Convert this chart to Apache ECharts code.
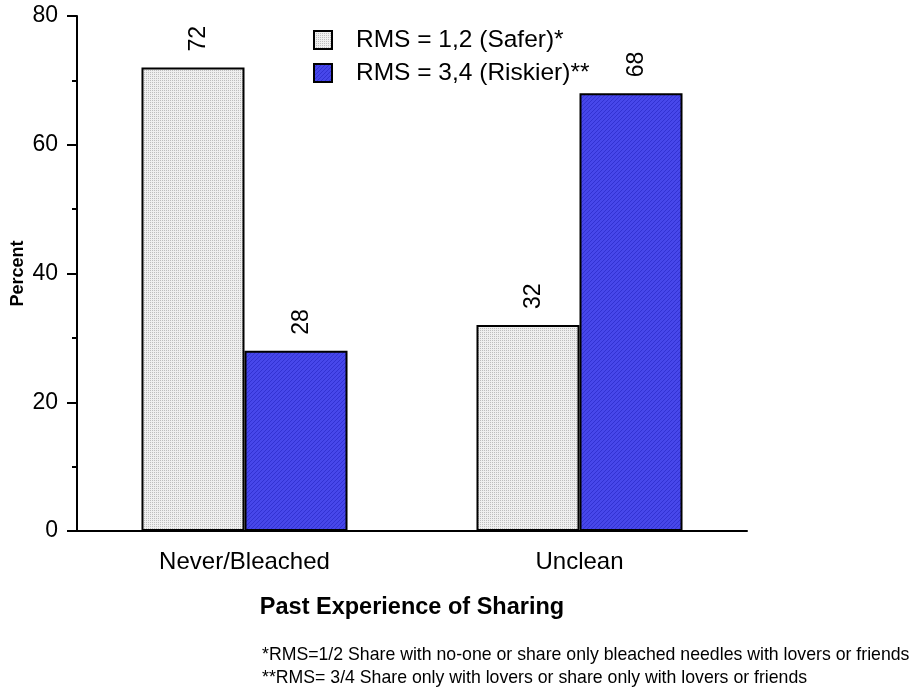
<!DOCTYPE html>
<html>
<head>
<meta charset="utf-8">
<script src="https://cdn.jsdelivr.net/npm/echarts@6/dist/echarts.min.js"></script>
<style>
  html, body { margin: 0; padding: 0; background: #fff; }
  #chart { width: 912px; height: 696px; }
</style>
</head>
<body>
<div id="chart"></div>
<script>
// Chart data
const categories = ['Never/Bleached', 'Unclean'];
const seriesNames = ['RMS = 1,2 (Safer)*', 'RMS = 3,4 (Riskier)**'];
const saferValues = [72, 32];
const riskierValues = [28, 68];
const yTicks = [0, 20, 40, 60, 80];
const footnotes = [
  '*RMS=1/2 Share with no-one or share only bleached needles with lovers or friends',
  '**RMS= 3/4 Share only with lovers or share only with lovers or friends'
];

const FONT = '"Liberation Sans", Arial, sans-serif';

// Small fill textures: fine stipple for the grey bars, fine diagonal hatch for the blue bars
function makePattern(draw) {
  const c = document.createElement('canvas');
  c.width = 4; c.height = 4;
  draw(c.getContext('2d'));
  return { image: c, repeat: 'repeat' };
}
const greyFill = makePattern(ctx => {
  ctx.fillStyle = '#efefef'; ctx.fillRect(0, 0, 4, 4);
  ctx.fillStyle = '#bdbdbd';
  ctx.fillRect(0, 0, 1, 1); ctx.fillRect(2, 2, 1, 1);
  ctx.fillRect(2, 0, 1, 1); ctx.fillRect(0, 2, 1, 1);
});
const blueFill = makePattern(ctx => {
  ctx.fillStyle = '#4747ea'; ctx.fillRect(0, 0, 4, 4);
  ctx.fillStyle = '#3232d2';
  for (let i = 0; i < 4; i++) ctx.fillRect(3 - i, i, 1, 1);
});

const chart = echarts.init(document.getElementById('chart'), null, { renderer: 'canvas' });

const labelStyle = {
  show: true,
  position: 'top',
  rotate: 90,
  align: 'left',
  verticalAlign: 'middle',
  distance: 16,
  offset: [0, 6],
  fontFamily: FONT,
  fontSize: 23,
  color: '#000'
};

chart.setOption({
  animation: false,
  backgroundColor: '#fff',
  grid: { left: 77, right: 165, top: 16, bottom: 165, containLabel: false, outerBoundsMode: 'none' },
  legend: {
    orient: 'vertical',
    left: 313,
    top: 27.5,
    padding: 0,
    icon: 'rect',
    itemWidth: 18,
    itemHeight: 18,
    itemGap: 8,
    data: seriesNames,
    textStyle: { fontFamily: FONT, fontSize: 24.5, color: '#000', padding: [0, 0, 0, 19] }
  },
  xAxis: [
    {
      type: 'category',
      data: categories,
      axisLine: { lineStyle: { color: '#000', width: 2 } },
      axisTick: { alignWithLabel: true, length: 8, lineStyle: { color: '#000', width: 2 } },
      axisLabel: { fontFamily: FONT, fontSize: 24, color: '#000', margin: 19 },
      name: 'Past Experience of Sharing',
      nameLocation: 'middle',
      nameGap: 65,
      nameTextStyle: { fontFamily: FONT, fontSize: 23.5, fontWeight: 'bold', color: '#000' }
    },
    {
      // category boundary ticks
      type: 'category',
      data: categories,
      position: 'bottom',
      axisLine: { show: false },
      axisTick: { length: 4, lineStyle: { color: '#000', width: 2 } },
      axisLabel: { show: false }
    }
  ],
  yAxis: {
    type: 'value',
    min: 0,
    max: 80,
    interval: 20,
    axisLine: { show: true, lineStyle: { color: '#000', width: 2 } },
    axisTick: { show: true, length: 10, lineStyle: { color: '#000', width: 2 } },
    minorTick: { show: true, splitNumber: 2, length: 5, lineStyle: { color: '#000', width: 2 } },
    splitLine: { show: false },
    axisLabel: {
      fontFamily: FONT, fontSize: 23, color: '#000', margin: 19,
      formatter: v => (yTicks.indexOf(v) >= 0 ? String(v) : '')
    },
    name: 'Percent',
    nameLocation: 'middle',
    nameGap: 50,
    nameRotate: 90,
    nameMoveOverlap: false,
    nameTextStyle: { fontFamily: FONT, fontSize: 18, fontWeight: 'bold', color: '#000' }
  },
  series: [
    {
      name: seriesNames[0],
      type: 'bar',
      data: saferValues,
      barGap: '0%',
      barCategoryGap: '38.5%',
      itemStyle: { color: greyFill, borderColor: '#000', borderWidth: 2 },
      label: labelStyle
    },
    {
      name: seriesNames[1],
      type: 'bar',
      data: riskierValues,
      barGap: '0%',
      barCategoryGap: '38.5%',
      itemStyle: { color: blueFill, borderColor: '#000', borderWidth: 2 },
      label: labelStyle
    }
  ],
  graphic: footnotes.map((t, i) => ({
    type: 'text',
    left: 262,
    top: 646 + i * 23,
    style: { text: t, fontFamily: FONT, fontSize: 17.7, fill: '#000' }
  }))
});
</script>
</body>
</html>
